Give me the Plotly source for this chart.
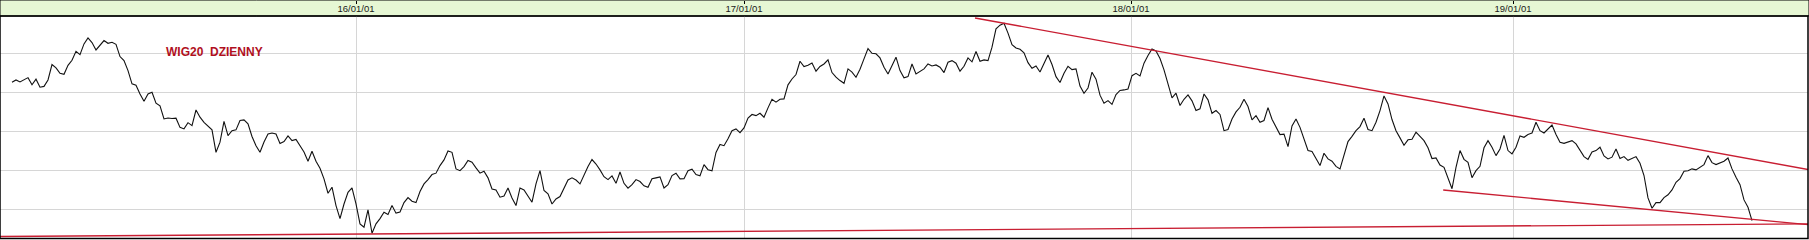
import numpy as np
import plotly.graph_objects as go

# WIG20 daily close (one reading every ~2.6 sessions)
WIG20_A = [2351,2363,2353,2365,2375,2338,2367,2326,2330,2363,
           2442,2425,2397,2392,2438,2464,2510,2493,2548,2579,
           2555,2517,2544,2565,2551,2556,2546,2483,2462,2411,
           2343,2336,2291,2254,2291,2300,2244,2230,2163,2168,
           2165,2167,2120,2112,2144,2129,2209,2172,2146,2126,
           2107,1992,2044,2151,2078,2103,2107,2155,2158,2138,
           2073,2026,1992,2045,2086,2091,2086,2037,2047,2076,
           2052,2058,2023,1994,1946,1997,1946,1910,1856,1782,
           1813,1719,1652,1727,1787,1809,1727,1625,1608,1697,
           1577,1625,1652,1685,1673,1719,1680,1686,1734,1760,
           1741,1734,1791,1830,1852,1878,1885,1924,1953,1999,
           1992]
WIG20_B = [1907,1898,1919,1950,1941,1912,1885,1895,1861,1804,
           1799,1762,1768,1809,1758,1719,1809,1799,1765,1736,
           1830,1898,1796,1779,1727,1753,1765,1808,1850,1861,
           1850,1830,1878,1919,1955,1932,1902,1867,1852,1871,
           1833,1891,1833,1808,1826,1852,1842,1820,1813,1856,
           1861,1866,1809,1826,1873,1885,1856,1857,1898,1905,
           1878,1872,1929,1903,1897,1991,2032,2026,2061,2103,
           2112,2093,2117,2168,2186,2180,2192,2172,2220,2264,
           2249,2264,2266,2338,2368,2391,2459,2432,2438,2450,
           2408,2432,2445,2466,2401,2377,2360,2346,2420,2403,
           2377,2418,2471,2524,2500,2497,2476,2428,2394,2437,
           2480,2411,2374]
WIG20_C = [2380,2445,2394,2409,2420,2445,2435,2440,2428,2401,
           2454,2462,2449,2408,2433,2476,2456,2509,2459,2466,
           2462,2531,2625,2644,2654,2603,2544,2527,2520,2502,
           2452,2423,2435,2404,2449,2491,2442,2380,2350,2397,
           2433,2416,2420,2332,2295,2322,2403,2367,2285,2244,
           2257,2238,2288,2309,2312,2317,2385,2397,2384,2449,
           2488,2522,2512,2473,2415,2339,2271,2295,2232,2264,
           2286,2256,2206,2215,2291,2261,2192,2206,2186,2103,
           2109,2163,2199,2223,2264,2227,2158,2180,2146,2155,
           2221,2162,2124,2083,2085,2021,2127,2163,2120,2061,
           2001,1996,1963,1924,1987,1958,1946,1920,1907,1980,
           2047,2074,2103]
WIG20_D = [2124,2167,2109,2103,2146,2206,2281,2240,2160,2103,
           2066,2028,2056,2059,2095,2074,2052,2015,1960,1963,
           1927,1915,1861,1805,1915,2001,1956,1941,1862,1898,
           1920,2015,2052,2018,1975,2009,2079,2001,1984,2018,
           2076,2069,2083,2091,2146,2103,2091,2109,2132,2083,
           2044,2038,2047,2052,2035,2004,1970,1956,1994,2001,
           2018,1973,1958,1967,2009,1960,1970,1951,1960,1970,
           1936,1873,1758,1705,1734,1734,1760,1774,1799,1838,
           1857,1895,1897,1907,1902,1917,1929,1975,1939,1929,
           1936,1946,1963,1907,1864,1826,1748,1710,1642]
WIG20 = WIG20_A + WIG20_B + WIG20_C + WIG20_D
steps = np.arange(len(WIG20))

# x-axis tick labels (year starts) and their reading-step positions
TICK_POS = [86, 183, 279.75, 375.25]
TICK_TEXT = ["16/01/01", "17/01/01", "18/01/01", "19/01/01"]

# hand-drawn trend lines (step, value)
RESIST_X = [240.75, 449.25]
RESIST_Y = [2681, 1903]
SUPPORT_X = [357.8, 449.0]
SUPPORT_Y = [1799, 1621]
BASE_X = [-3, 449.25]
BASE_Y = [1560, 1625]

RED = "#c81e32"

fig = go.Figure()
fig.add_trace(go.Scatter(x=steps, y=WIG20, mode="lines",
                         line=dict(color="#111111", width=1.1), hoverinfo="skip"))
for xs, ys in [(RESIST_X, RESIST_Y), (SUPPORT_X, SUPPORT_Y), (BASE_X, BASE_Y)]:
    fig.add_trace(go.Scatter(x=xs, y=ys, mode="lines",
                             line=dict(color=RED, width=1.4), hoverinfo="skip"))

top = 1 - 16 / 240
bot = 1.5 / 240
right = 1808 / 1809

fig.update_layout(
    width=1809, height=240,
    margin=dict(l=0, r=0, t=0, b=0),
    paper_bgcolor="white", plot_bgcolor="white",
    showlegend=False,
    xaxis=dict(domain=[0, right], range=[-3, 449],
               tickmode="array", tickvals=TICK_POS, ticktext=TICK_TEXT,
               side="top", anchor="free", position=1,
               ticks="inside", ticklen=3, tickcolor="black", tickwidth=1,
               ticklabelposition="inside",
               tickfont=dict(family="Liberation Sans, Arial, sans-serif", size=9.5, color="#1a1a1a"),
               showgrid=True, gridcolor="#d6d6d6", gridwidth=1,
               zeroline=False, showline=False),
    yaxis=dict(domain=[bot, top], range=[1550, 2691],
               tick0=1700, dtick=200, showticklabels=False, ticks="",
               showgrid=True, gridcolor="#d6d6d6", gridwidth=1,
               zeroline=False, showline=False),
    shapes=[
        dict(type="rect", xref="paper", yref="paper", x0=0, x1=1, y0=top, y1=1,
             fillcolor="#e6f7d4", line=dict(color="black", width=1), layer="below"),
        dict(type="rect", xref="paper", yref="paper", x0=0, x1=right, y0=bot, y1=top,
             fillcolor="rgba(0,0,0,0)", line=dict(color="black", width=1.5), layer="above"),
    ],
    annotations=[
        dict(text="WIG20  DZIENNY", xref="paper", yref="paper",
             x=214.7 / 1809, y=1 - 51.5 / 240, xanchor="center", yanchor="middle",
             showarrow=False,
             font=dict(family="Liberation Sans, Arial, sans-serif", size=12,
                       color="#b0101e", weight="bold")),
    ],
)

fig.write_html("out.html")
